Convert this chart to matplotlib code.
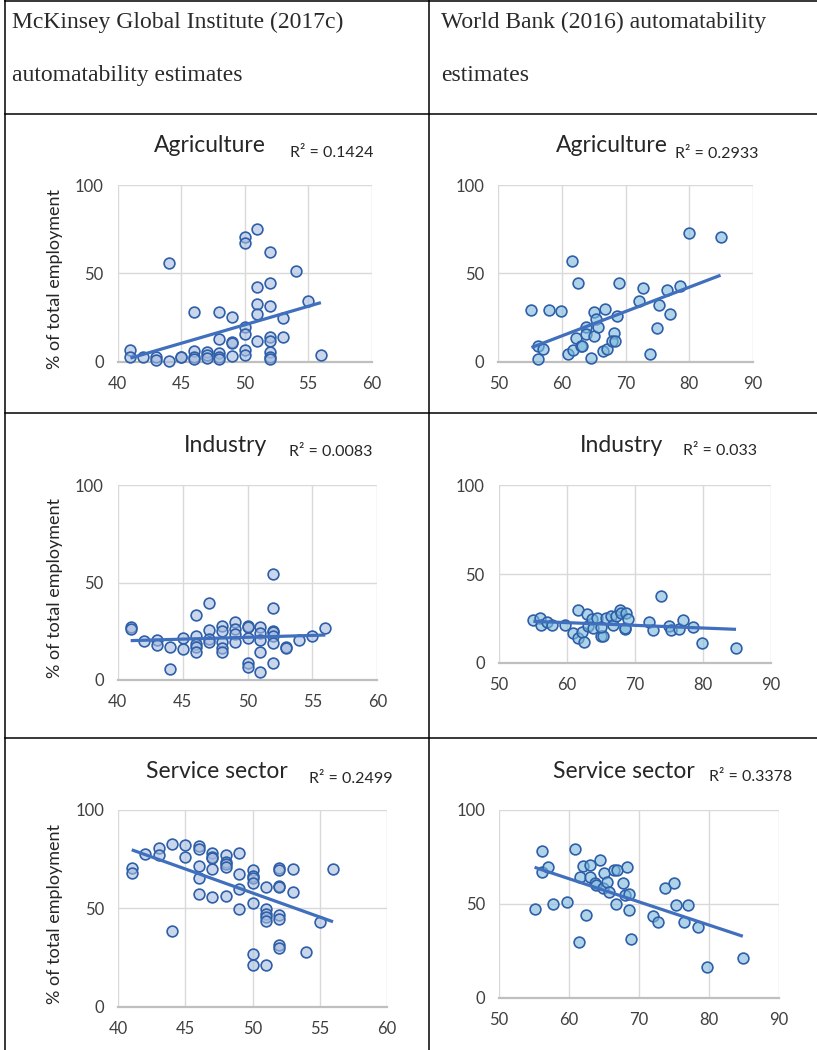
import numpy as np
import matplotlib
matplotlib.use("Agg")
import matplotlib.pyplot as plt
from matplotlib.lines import Line2D

# ---------------- data ----------------
# McKinsey Global Institute (2017c) automatability (x) vs % of total employment (y)
mck_agri_x = [41, 41, 42, 43, 43, 44, 44, 45, 45, 46, 46, 46, 46, 47, 47, 47, 48, 48, 48, 48, 48,
              49, 49, 49, 49, 50, 50, 50, 50, 50, 50, 51, 51, 51, 51, 51, 52, 52, 52, 52, 52, 52,
              52, 52, 53, 53, 54, 55, 56]
mck_agri_y = [6.4, 2.8, 2.5, 2.8, 0.9, 56, 0.6, 2.5, 2.8, 27.9, 6, 2.8, 1.3, 5.3, 3.8, 2.3, 27.9,
              13, 4.7, 2.8, 1.5, 25.5, 11.3, 10.4, 3.2, 70.8, 67, 19.8, 15.5, 6.6, 3.8, 75, 42,
              32.6, 27, 11.9, 61.9, 44.3, 31.5, 13.8, 11.9, 5.3, 2.8, 1.3, 24.5, 13.8, 51.5,
              34.3, 3.8]

mck_ind_x = [41, 41, 42, 43, 43, 44, 44, 45, 45, 46, 46, 46, 46, 46, 47, 47, 47, 47, 48, 48, 48,
             48, 48, 49, 49, 49, 49, 50, 50, 50, 50, 50, 51, 51, 51, 51, 51, 52, 52, 52, 52, 52,
             52, 52, 53, 53, 54, 55, 56]
mck_ind_y = [27.4, 26.2, 20.2, 20.5, 18.1, 17.1, 5.6, 21.4, 15.9, 33.5, 22.7, 18.3, 16.8, 14.5,
             39.7, 25.6, 21, 19.5, 27.7, 25, 19.3, 16.2, 14.5, 29.6, 26, 23.4, 19.3, 27.5, 27,
             21.4, 8.5, 6.5, 27.4, 23.9, 20.5, 14.4, 4.1, 54.2, 37.1, 25.3, 24.4, 22.7, 19.1,
             8.5, 17.1, 16.4, 20.5, 22.7, 26.5]

mck_serv_x = [41, 41, 42, 43, 43, 44, 44, 45, 45, 46, 46, 46, 46, 46, 47, 47, 47, 47, 47, 48,
              48, 48, 48, 48, 49, 49, 49, 49, 50, 50, 50, 50, 50, 50, 50, 51, 51, 51, 51, 51, 51,
              52, 52, 52, 52, 52, 52, 52, 52, 53, 53, 54, 55, 56]
mck_serv_y = [70.3, 67.8, 77.6, 80.8, 77.1, 82.9, 38.5, 82, 76.3, 81.7, 80, 71.5, 65.6, 57.5,
              78.3, 76.3, 75.4, 69.8, 55.6, 77.1, 73.7, 72.5, 71.2, 56.3, 78.1, 67.5, 59.7,
              49.5, 69.7, 66.6, 65.3, 63.1, 52.9, 26.6, 21, 61, 49.5, 47.1, 45.8, 43.7, 21,
              70.7, 69.5, 61.4, 60.7, 46.4, 44.7, 31.4, 29.7, 70, 58.3, 28, 43.2, 70]

# World Bank (2016) automatability (x) vs % of total employment (y)
wb_agri_x = [55.2, 56.2, 56.3, 57.0, 57.9, 59.8, 60.9, 61.5, 61.7, 62.2, 62.5, 63.0, 63.1, 63.7,
             63.8, 64.5, 65.0, 65.0, 65.4, 65.7, 66.4, 66.7, 67.0, 68.1, 67.8, 68.3, 68.6, 68.9,
             72.1, 72.7, 73.8, 75.0, 75.3, 76.5, 77.0, 78.5, 79.9, 84.9]
wb_agri_y = [29.2, 8.9, 1.3, 7.4, 29.2, 28.5, 4.3, 57.2, 6.6, 13.4, 44.7, 9.1, 9.1, 19.8, 15.7,
             2.1, 27.9, 14.7, 24.2, 19.8, 6.2, 29.6, 7.4, 16.4, 11.9, 11.7, 25.8, 44.3, 34.3,
             41.5, 4.5, 18.9, 32.1, 40.8, 27.2, 42.6, 72.6, 70.6]

wb_ind_x = [55.1, 56.1, 56.2, 57.1, 57.8, 59.8, 60.9, 61.6, 61.6, 62.3, 62.5, 63.0, 63.2, 63.7,
            63.8, 64.5, 65.0, 65.4, 65.0, 65.8, 66.5, 66.8, 67.2, 67.9, 68.0, 68.5, 68.6, 68.7,
            69.0, 72.1, 72.7, 73.8, 75.0, 75.3, 76.5, 77.1, 78.5, 79.9, 84.9]
wb_ind_y = [24.1, 25, 21.1, 23.1, 21.1, 21.1, 16.9, 29.7, 13.7, 17.1, 11.5, 27.3, 20.7, 24.6,
            19.7, 25, 15, 15, 20.3, 25, 26.5, 21.2, 26.5, 29.7, 27.8, 18.8, 19.4, 27.8, 24.6,
            23.1, 18.4, 37.8, 20.7, 18.4, 18.8, 24.1, 19.9, 11.3, 8.5]

wb_serv_x = [55.1, 56.2, 56.2, 57.0, 57.7, 59.8, 60.9, 61.5, 61.6, 62.1, 62.5, 63.0, 63.1, 63.8,
             63.9, 64.5, 64.9, 65.0, 65.4, 65.7, 66.5, 66.9, 66.7, 67.7, 68.0, 68.3, 68.6, 68.6,
             68.9, 72.1, 72.7, 73.7, 75.1, 75.3, 76.5, 77.1, 78.5, 79.8, 84.9]
wb_serv_y = [47.3, 78.2, 67.2, 69.9, 50, 51.1, 79.4, 29.6, 64.4, 70.2, 44.3, 70.9, 64.4, 61,
             60.1, 73.4, 58.5, 66.3, 61.7, 56.6, 68.1, 68.1, 49.8, 61.3, 55, 69.5, 55.5, 47,
             31.4, 43.6, 40.6, 58.5, 61.3, 49.6, 40.3, 49.5, 37.9, 16.5, 21.1]

sector_titles = ["Agriculture", "Industry", "Service sector"]
r2_mck = ["R\u00b2 = 0.1424", "R\u00b2 = 0.0083", "R\u00b2 = 0.2499"]
r2_wb = ["R\u00b2 = 0.2933", "R\u00b2 = 0.033", "R\u00b2 = 0.3378"]
mck_xticks = [40, 45, 50, 55, 60]
wb_xticks = [50, 60, 70, 80, 90]
y_ticks = [0, 50, 100]
header_left = ["McKinsey Global Institute (2017c)", "automatability estimates"]
header_right = ["World Bank (2016) automatability", "estimates"]
y_label = "% of total employment"

# ---------------- figure ----------------
W, H = 817, 1050
fig = plt.figure(figsize=(W / 100, H / 100), dpi=100)
fig.patch.set_facecolor("white")

SANS = ["Lato", "DejaVu Sans"]
SERIF = ["Liberation Serif", "DejaVu Serif"]


def fx(px):
    return px / W


def fy(py):
    return 1 - py / H


# table lines
for yy in [1, 114, 413, 738]:
    fig.add_artist(Line2D([fx(5), 1], [fy(yy), fy(yy)], color="black", lw=1.1))
for xx in [5, 429]:
    fig.add_artist(Line2D([fx(xx), fx(xx)], [0, 1], color="black", lw=1.1))

# header text
hdr_kw = dict(family=SERIF, fontsize=17, va="baseline", color="#2a2a2a")
fig.text(fx(12), fy(28), header_left[0], **hdr_kw)
fig.text(fx(12), fy(81), header_left[1], **hdr_kw)
fig.text(fx(441), fy(28), header_right[0], **hdr_kw)
fig.text(fx(441), fy(81), header_right[1], **hdr_kw)

# panel geometry in pixels: left, right, top, bottom
panels = [
    (mck_agri_x, mck_agri_y, (117.7, 371.7, 185, 361.7), (40, 60), mck_xticks, sector_titles[0], r2_mck[0], (210, 146), (332, 153), "mck", True),
    (wb_agri_x, wb_agri_y, (498.3, 753, 185, 361.7), (50, 90), wb_xticks, sector_titles[0], r2_wb[0], (612, 146), (717, 154), "wb", False),
    (mck_ind_x, mck_ind_y, (117.7, 377.3, 485, 680), (40, 60), mck_xticks, sector_titles[1], r2_mck[1], (226, 445), (331, 452), "mck", True),
    (wb_ind_x, wb_ind_y, (498.7, 770.7, 485.3, 662.7), (50, 90), wb_xticks, sector_titles[1], r2_wb[1], (621, 445), (720, 451), "wb", False),
    (mck_serv_x, mck_serv_y, (118.3, 386.7, 810, 1006.7), (40, 60), mck_xticks, sector_titles[2], r2_mck[2], (217, 771), (351, 779), "mck", True),
    (wb_serv_x, wb_serv_y, (498.9, 778.5, 810, 998), (50, 90), wb_xticks, sector_titles[2], r2_wb[2], (624, 771), (751, 777), "wb", False),
]

face_colors = {"mck": (0.647, 0.733, 0.875, 0.6), "wb": (0.48, 0.72, 0.86, 0.6)}
edge_color = "#2f5fa8"
line_color = "#4070bd"

for xs, ys, box, xlim, xt, title, r2, tpos, rpos, kind, has_ylab in panels:
    l, r, t, b = box
    ax = fig.add_axes([fx(l), fy(b), (r - l) / W, (b - t) / H])
    ax.set_xlim(*xlim)
    ax.set_ylim(0, 100)
    ax.set_xticks(xt)
    ax.set_yticks(y_ticks)
    ax.grid(True, color="#d9d9d9", lw=1.0, zorder=0)
    ax.set_axisbelow(True)
    for s in ["top", "right", "left"]:
        ax.spines[s].set_visible(False)
    ax.spines["bottom"].set_color("#bfbfbf")
    ax.spines["bottom"].set_linewidth(1.6)
    ax.tick_params(length=0, labelsize=12, labelcolor="#404040", pad=10)
    for lab in ax.get_xticklabels() + ax.get_yticklabels():
        lab.set_family(SANS)
    ax.scatter(xs, ys, s=60, facecolor=face_colors[kind], edgecolor=edge_color,
               linewidth=1.2, zorder=3, clip_on=False)
    xa = np.array(xs, dtype=float)
    ya = np.array(ys, dtype=float)
    k, c0 = np.polyfit(xa, ya, 1)
    xx = np.array([xa.min(), xa.max()])
    ax.plot(xx, k * xx + c0, color=line_color, lw=2.3, zorder=4, solid_capstyle="butt")

    fig.text(fx(tpos[0]), fy(tpos[1]), title, family=SANS, fontsize=16.5, ha="center",
             va="center", color="#262626")
    fig.text(fx(rpos[0]), fy(rpos[1]), r2, family=SANS, fontsize=11.5, ha="center",
             va="center", color="#262626")
    if has_ylab:
        fig.text(fx(55), fy((t + b) / 2 + 6), y_label, family=SANS, fontsize=13,
                 rotation=90, ha="center", va="center", color="#262626")

fig.savefig("out.png", dpi=100, facecolor="white")
